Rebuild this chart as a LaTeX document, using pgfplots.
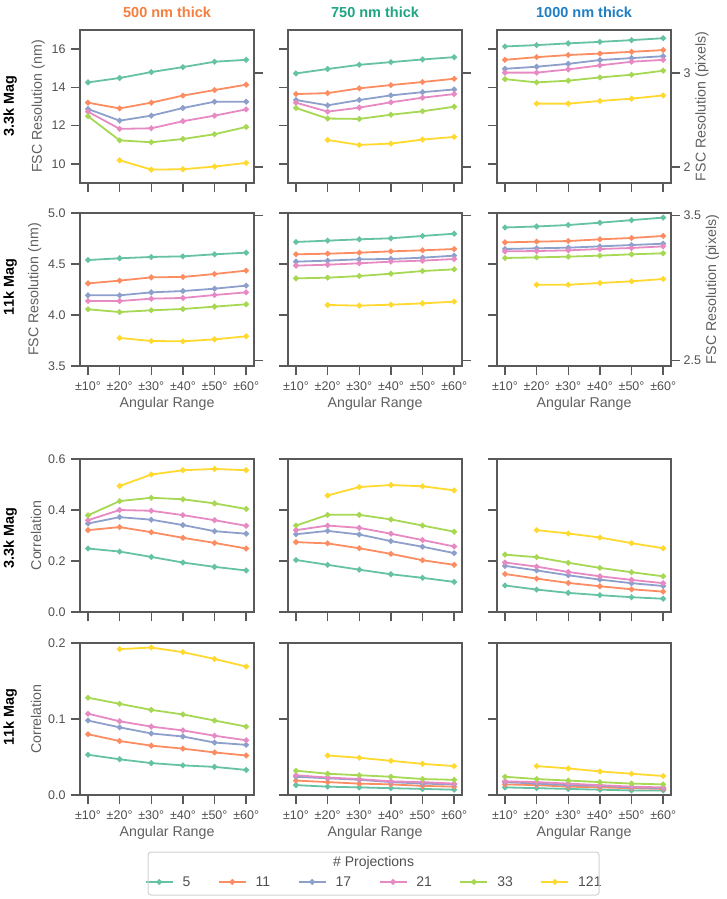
\documentclass[border=0pt]{standalone}
\usepackage{fontspec}
\setmainfont{Liberation Sans}
\usepackage{pgfplots}
\pgfplotsset{compat=1.18}

\definecolor{c5}{HTML}{66C2A5}
\definecolor{c11}{HTML}{FC8D62}
\definecolor{c17}{HTML}{8DA0CB}
\definecolor{c21}{HTML}{E78AC3}
\definecolor{c33}{HTML}{A6D854}
\definecolor{c121}{HTML}{FFD92F}
\definecolor{t500}{HTML}{F47F3F}
\definecolor{t750}{HTML}{1FA584}
\definecolor{t1000}{HTML}{1F7EC5}
\definecolor{axgray}{HTML}{595959}
\definecolor{txtgray}{HTML}{505050}
\definecolor{labgray}{HTML}{606060}

\pgfplotsset{
  common/.style={
    scale only axis, width=174pt, anchor=north west,
    xmin=-0.25, xmax=5.25,
    tick align=outside, major tick length=9pt,
    axis line style={-, draw=axgray, line width=1.5pt},
    tick style={draw=axgray, line width=1.5pt},
    tick label style={font=\fontsize{12.5}{14}\selectfont, color=txtgray},
    label style={font=\fontsize{14.2}{16}\selectfont, color=labgray},
    /pgf/number format/assume math mode=true,
  },
  panel/.style={
    common, height=153pt,
    tick pos=left,
    xtick={0,...,5},
    xticklabels={±10°,±20°,±30°,±40°,±50°,±60°},
    xticklabel style={yshift=-3pt},
    yticklabel style={xshift=-2pt},
    title style={font=\bfseries\fontsize{14.5}{16}\selectfont, yshift=3pt},
  },
  twin/.style={
    common, height=153pt,
    hide x axis, axis line style={draw=none},
    ytick pos=right, yticklabel pos=right,
    ylabel shift=-2pt,
  },
  nox/.style={xticklabels={}},
  noy/.style={yticklabels={}},
  r1/.style={ymin=9, ymax=17, ytick={10,12,14,16}},
  r2/.style={ymin=3.5, ymax=5.0, ytick={3.5,4.0,4.5,5.0},
    yticklabel style={/pgf/number format/.cd, fixed, fixed zerofill, precision=1}},
  r3/.style={ymin=0, ymax=0.6, ytick={0,0.2,0.4,0.6},
    yticklabel style={/pgf/number format/.cd, fixed, fixed zerofill, precision=1}},
  r4/.style={ymin=0, ymax=0.2, ytick={0,0.1,0.2}, height=152pt,
    yticklabel style={/pgf/number format/.cd, fixed, fixed zerofill, precision=1}},
  tw1/.style={ymin=1.8293, ymax=3.4553, ytick={2,3}},
  tw2/.style={ymin=2.4613, ymax=3.5162, ytick={2.5,3.5},
    yticklabel style={/pgf/number format/.cd, fixed, fixed zerofill, precision=1}},
  ser/.style={line width=1.8pt, mark=*, mark size=1.9pt, mark options={solid}},
  s5/.style={ser, color=c5},
  s11/.style={ser, color=c11},
  s17/.style={ser, color=c17},
  s21/.style={ser, color=c21},
  s33/.style={ser, color=c33},
  s121/.style={ser, color=c121},
}

\begin{document}
\begin{tikzpicture}
\path (0pt,0pt) rectangle (725pt,-899pt);

% row labels
\node[rotate=90, font=\bfseries\fontsize{14.4}{16}\selectfont] at (9pt,-106.5pt) {3.3k Mag};
\node[rotate=90, font=\bfseries\fontsize{14.4}{16}\selectfont] at (9pt,-287pt) {11k Mag};
\node[rotate=90, font=\bfseries\fontsize{14.4}{16}\selectfont] at (9pt,-538pt) {3.3k Mag};
\node[rotate=90, font=\bfseries\fontsize{14.4}{16}\selectfont] at (9pt,-717pt) {11k Mag};

% ---------- row 1: 3.3k Mag, FSC resolution ----------
\begin{axis}[panel, r1, nox, at={(79pt,-30pt)}, ylabel={FSC Resolution (nm)},
  title={500 nm thick}, title style={color=t500}]
\addplot[s5] coordinates {(0,14.26) (1,14.49) (2,14.80) (3,15.06) (4,15.34) (5,15.44)};
\addplot[s11] coordinates {(0,13.20) (1,12.90) (2,13.20) (3,13.57) (4,13.86) (5,14.14)};
\addplot[s17] coordinates {(0,12.87) (1,12.26) (2,12.52) (3,12.92) (4,13.25) (5,13.25)};
\addplot[s21] coordinates {(0,12.73) (1,11.83) (2,11.86) (3,12.23) (4,12.52) (5,12.85)};
\addplot[s33] coordinates {(0,12.49) (1,11.23) (2,11.13) (3,11.30) (4,11.55) (5,11.93)};
\addplot[s121] coordinates {(1,10.19) (2,9.70) (3,9.72) (4,9.86) (5,10.05)};
\end{axis}
\begin{axis}[twin, tw1, noy, at={(79pt,-30pt)}]
\end{axis}

\begin{axis}[panel, r1, nox, noy, at={(287pt,-30pt)},
  title={750 nm thick}, title style={color=t750}]
\addplot[s5] coordinates {(0,14.73) (1,14.96) (2,15.18) (3,15.32) (4,15.46) (5,15.58)};
\addplot[s11] coordinates {(0,13.65) (1,13.70) (2,13.95) (3,14.12) (4,14.28) (5,14.45)};
\addplot[s17] coordinates {(0,13.34) (1,13.06) (2,13.34) (3,13.58) (4,13.75) (5,13.89)};
\addplot[s21] coordinates {(0,13.20) (1,12.73) (2,12.94) (3,13.22) (4,13.46) (5,13.65)};
\addplot[s33] coordinates {(0,12.92) (1,12.37) (2,12.35) (3,12.57) (4,12.75) (5,12.99)};
\addplot[s121] coordinates {(1,11.25) (2,10.99) (3,11.06) (4,11.27) (5,11.41)};
\end{axis}
\begin{axis}[twin, tw1, noy, at={(287pt,-30pt)}]
\end{axis}

\begin{axis}[panel, r1, nox, noy, at={(496pt,-30pt)},
  title={1000 nm thick}, title style={color=t1000}]
\addplot[s5] coordinates {(0,16.14) (1,16.21) (2,16.30) (3,16.38) (4,16.47) (5,16.57)};
\addplot[s11] coordinates {(0,15.44) (1,15.58) (2,15.69) (3,15.77) (4,15.86) (5,15.95)};
\addplot[s17] coordinates {(0,14.97) (1,15.08) (2,15.23) (3,15.43) (4,15.53) (5,15.63)};
\addplot[s21] coordinates {(0,14.77) (1,14.77) (2,14.94) (3,15.15) (4,15.34) (5,15.44)};
\addplot[s33] coordinates {(0,14.43) (1,14.26) (2,14.35) (3,14.52) (4,14.66) (5,14.87)};
\addplot[s121] coordinates {(1,13.15) (2,13.15) (3,13.29) (4,13.41) (5,13.58)};
\end{axis}
\begin{axis}[twin, tw1, at={(496pt,-30pt)}, ylabel={FSC Resolution (pixels)}]
\end{axis}

% ---------- row 2: 11k Mag, FSC resolution ----------
\begin{axis}[panel, r2, at={(79pt,-213pt)}, ylabel={FSC Resolution (nm)}, xlabel={Angular Range}]
\addplot[s5] coordinates {(0,4.539) (1,4.556) (2,4.569) (3,4.575) (4,4.595) (5,4.611)};
\addplot[s11] coordinates {(0,4.310) (1,4.337) (2,4.369) (3,4.373) (4,4.402) (5,4.435)};
\addplot[s17] coordinates {(0,4.193) (1,4.193) (2,4.222) (3,4.235) (4,4.258) (5,4.288)};
\addplot[s21] coordinates {(0,4.137) (1,4.137) (2,4.160) (3,4.167) (4,4.196) (5,4.222)};
\addplot[s33] coordinates {(0,4.056) (1,4.029) (2,4.046) (3,4.059) (4,4.082) (5,4.105)};
\addplot[s121] coordinates {(1,3.775) (2,3.745) (3,3.742) (4,3.761) (5,3.791)};
\end{axis}
\begin{axis}[twin, tw2, noy, at={(79pt,-213pt)}]
\end{axis}

\begin{axis}[panel, r2, noy, at={(287pt,-213pt)}, xlabel={Angular Range}]
\addplot[s5] coordinates {(0,4.716) (1,4.729) (2,4.742) (3,4.752) (4,4.775) (5,4.797)};
\addplot[s11] coordinates {(0,4.595) (1,4.601) (2,4.611) (3,4.624) (4,4.634) (5,4.647)};
\addplot[s17] coordinates {(0,4.523) (1,4.533) (2,4.546) (3,4.549) (4,4.562) (5,4.582)};
\addplot[s21] coordinates {(0,4.484) (1,4.493) (2,4.507) (3,4.523) (4,4.533) (5,4.549)};
\addplot[s33] coordinates {(0,4.359) (1,4.366) (2,4.382) (3,4.405) (4,4.431) (5,4.448)};
\addplot[s121] coordinates {(1,4.098) (2,4.092) (3,4.101) (4,4.114) (5,4.131)};
\end{axis}
\begin{axis}[twin, tw2, noy, at={(287pt,-213pt)}]
\end{axis}

\begin{axis}[panel, r2, noy, at={(496pt,-213pt)}, xlabel={Angular Range}]
\addplot[s5] coordinates {(0,4.858) (1,4.868) (2,4.882) (3,4.905) (4,4.930) (5,4.955)};
\addplot[s11] coordinates {(0,4.712) (1,4.719) (2,4.725) (3,4.742) (4,4.755) (5,4.775)};
\addplot[s17] coordinates {(0,4.647) (1,4.654) (2,4.660) (3,4.673) (4,4.686) (5,4.699)};
\addplot[s21] coordinates {(0,4.624) (1,4.627) (2,4.634) (3,4.647) (4,4.657) (5,4.673)};
\addplot[s33] coordinates {(0,4.559) (1,4.565) (2,4.572) (3,4.582) (4,4.595) (5,4.605)};
\addplot[s121] coordinates {(1,4.297) (2,4.297) (3,4.314) (4,4.330) (5,4.353)};
\end{axis}
\begin{axis}[twin, tw2, at={(496pt,-213pt)}, ylabel={FSC Resolution (pixels)}]
\end{axis}

% ---------- row 3: 3.3k Mag, correlation ----------
\begin{axis}[panel, r3, nox, at={(79pt,-459pt)}, ylabel={Correlation}]
\addplot[s5] coordinates {(0,0.249) (1,0.237) (2,0.216) (3,0.194) (4,0.177) (5,0.163)};
\addplot[s11] coordinates {(0,0.321) (1,0.333) (2,0.313) (3,0.291) (4,0.271) (5,0.249)};
\addplot[s17] coordinates {(0,0.347) (1,0.372) (2,0.362) (3,0.341) (4,0.317) (5,0.307)};
\addplot[s21] coordinates {(0,0.360) (1,0.400) (2,0.397) (3,0.380) (4,0.360) (5,0.338)};
\addplot[s33] coordinates {(0,0.379) (1,0.435) (2,0.448) (3,0.442) (4,0.426) (5,0.404)};
\addplot[s121] coordinates {(1,0.494) (2,0.539) (3,0.556) (4,0.561) (5,0.556)};
\end{axis}

\begin{axis}[panel, r3, nox, noy, at={(287pt,-459pt)}]
\addplot[s5] coordinates {(0,0.204) (1,0.185) (2,0.166) (3,0.148) (4,0.134) (5,0.118)};
\addplot[s11] coordinates {(0,0.274) (1,0.269) (2,0.250) (3,0.228) (4,0.203) (5,0.185)};
\addplot[s17] coordinates {(0,0.305) (1,0.318) (2,0.304) (3,0.278) (4,0.256) (5,0.231)};
\addplot[s21] coordinates {(0,0.321) (1,0.339) (2,0.330) (3,0.307) (4,0.282) (5,0.257)};
\addplot[s33] coordinates {(0,0.339) (1,0.381) (2,0.381) (3,0.363) (4,0.339) (5,0.315)};
\addplot[s121] coordinates {(1,0.457) (2,0.490) (3,0.498) (4,0.493) (5,0.477)};
\end{axis}

\begin{axis}[panel, r3, nox, noy, at={(496pt,-459pt)}]
\addplot[s5] coordinates {(0,0.104) (1,0.088) (2,0.075) (3,0.066) (4,0.058) (5,0.052)};
\addplot[s11] coordinates {(0,0.149) (1,0.131) (2,0.114) (3,0.101) (4,0.089) (5,0.080)};
\addplot[s17] coordinates {(0,0.181) (1,0.163) (2,0.144) (3,0.127) (4,0.113) (5,0.102)};
\addplot[s21] coordinates {(0,0.194) (1,0.178) (2,0.157) (3,0.140) (4,0.126) (5,0.113)};
\addplot[s33] coordinates {(0,0.225) (1,0.215) (2,0.193) (3,0.173) (4,0.156) (5,0.140)};
\addplot[s121] coordinates {(1,0.321) (2,0.308) (3,0.292) (4,0.270) (5,0.250)};
\end{axis}

% ---------- row 4: 11k Mag, correlation ----------
\begin{axis}[panel, r4, at={(79pt,-643pt)}, ylabel={Correlation}, xlabel={Angular Range}]
\addplot[s5] coordinates {(0,0.053) (1,0.047) (2,0.042) (3,0.039) (4,0.037) (5,0.033)};
\addplot[s11] coordinates {(0,0.080) (1,0.071) (2,0.065) (3,0.061) (4,0.056) (5,0.052)};
\addplot[s17] coordinates {(0,0.098) (1,0.089) (2,0.081) (3,0.077) (4,0.069) (5,0.066)};
\addplot[s21] coordinates {(0,0.107) (1,0.097) (2,0.090) (3,0.085) (4,0.078) (5,0.072)};
\addplot[s33] coordinates {(0,0.128) (1,0.120) (2,0.112) (3,0.106) (4,0.098) (5,0.090)};
\addplot[s121] coordinates {(1,0.192) (2,0.194) (3,0.188) (4,0.179) (5,0.169)};
\end{axis}

\begin{axis}[panel, r4, noy, at={(287pt,-643pt)}, xlabel={Angular Range},
  legend columns=6,
  legend image code/.code={\draw[#1, mark repeat=2, mark phase=2] plot coordinates {(0pt,0pt) (13.5pt,0pt) (27pt,0pt)};},
  legend style={at={(0.495,-0.572)}, anchor=center, draw=none, fill=none,
    font=\fontsize{14}{16}\selectfont, text=txtgray,
    /tikz/every odd column/.append style={column sep=7pt},
    /tikz/every even column/.append style={column sep=25.5pt}}]
\addplot[s5] coordinates {(0,0.013) (1,0.011) (2,0.010) (3,0.009) (4,0.008) (5,0.007)};
\addlegendentry{5}
\addplot[s11] coordinates {(0,0.019) (1,0.017) (2,0.015) (3,0.014) (4,0.012) (5,0.011)};
\addlegendentry{11}
\addplot[s17] coordinates {(0,0.024) (1,0.022) (2,0.020) (3,0.017) (4,0.015) (5,0.014)};
\addlegendentry{17}
\addplot[s21] coordinates {(0,0.026) (1,0.023) (2,0.021) (3,0.018) (4,0.017) (5,0.015)};
\addlegendentry{21}
\addplot[s33] coordinates {(0,0.032) (1,0.028) (2,0.026) (3,0.024) (4,0.021) (5,0.020)};
\addlegendentry{33}
\addplot[s121] coordinates {(1,0.052) (2,0.049) (3,0.045) (4,0.041) (5,0.038)};
\addlegendentry{121}
\end{axis}

\begin{axis}[panel, r4, noy, at={(496pt,-643pt)}, xlabel={Angular Range}]
\addplot[s5] coordinates {(0,0.010) (1,0.009) (2,0.008) (3,0.007) (4,0.006) (5,0.006)};
\addplot[s11] coordinates {(0,0.014) (1,0.013) (2,0.011) (3,0.010) (4,0.009) (5,0.008)};
\addplot[s17] coordinates {(0,0.017) (1,0.015) (2,0.013) (3,0.012) (4,0.010) (5,0.009)};
\addplot[s21] coordinates {(0,0.018) (1,0.017) (2,0.015) (3,0.013) (4,0.011) (5,0.010)};
\addplot[s33] coordinates {(0,0.024) (1,0.021) (2,0.019) (3,0.017) (4,0.015) (5,0.014)};
\addplot[s121] coordinates {(1,0.038) (2,0.035) (3,0.031) (4,0.028) (5,0.025)};
\end{axis}

% legend frame and title
\draw[draw=black!18, line width=1pt, rounded corners=3pt] (147pt,-852pt) rectangle (598pt,-895pt);
\node[font=\fontsize{14}{16}\selectfont, text=txtgray] at (372.5pt,-863pt) {\# Projections};
\end{tikzpicture}
\end{document}
